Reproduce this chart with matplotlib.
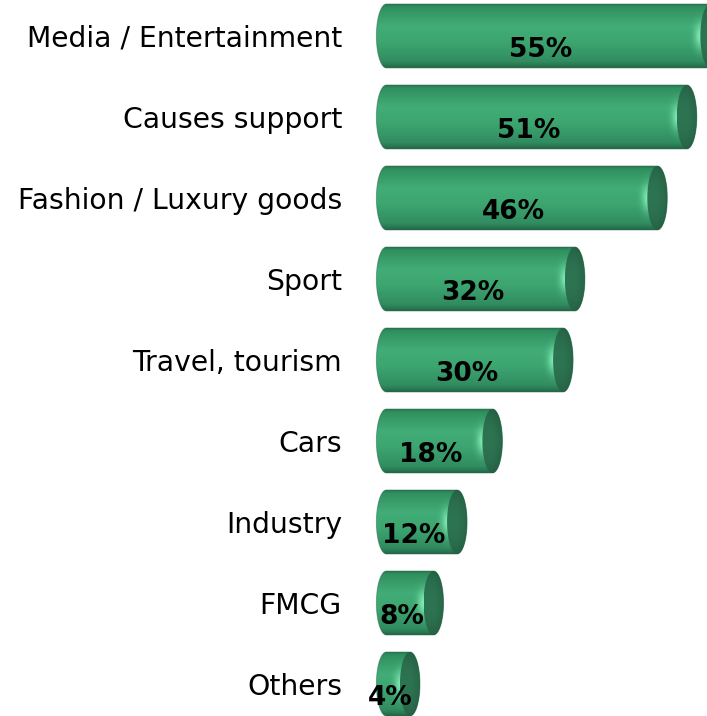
import numpy as np
import matplotlib.pyplot as plt
from matplotlib.colors import LinearSegmentedColormap, to_rgb
from matplotlib.patches import PathPatch, Ellipse
from matplotlib.path import Path

# share of respondents per sector
categories = ["Media / Entertainment", "Causes support", "Fashion / Luxury goods",
              "Sport", "Travel, tourism", "Cars", "Industry", "FMCG", "Others"]
values = [55, 51, 46, 32, 30, 18, 12, 8, 4]
value_labels = ["55%", "51%", "46%", "32%", "30%", "18%", "12%", "8%", "4%"]

fig = plt.figure(figsize=(7.07, 7.16), dpi=100)
ax = fig.add_axes([0, 0, 1, 1])
ax.set_xlim(-65.6, 54.43)
ax.set_ylim(8.395, -0.444)
ax.axis("off")

# vertical shading of the cylinder body (top -> bottom)
body_cmap = LinearSegmentedColormap.from_list("body", [
    (0.00, "#287a52"), (0.05, "#31905f"), (0.35, "#42ad78"),
    (0.60, "#3ca570"), (0.90, "#318c60"), (1.00, "#236846")])

rx = 1.7    # half width of the end ellipse (in %)
ry = 0.395  # half height of a bar (in rows)


def silhouette(yc, v):
    a1 = np.linspace(np.pi / 2, 3 * np.pi / 2, 60)
    a2 = np.linspace(-np.pi / 2, np.pi / 2, 60)
    left = np.column_stack([rx * np.cos(a1), yc + ry * np.sin(a1)])
    right = np.column_stack([v + rx * np.cos(a2), yc + ry * np.sin(a2)])
    pts = np.vstack([left, right, left[:1]])
    return Path(pts, closed=True)


def draw_cylinder(yc, v):
    path = silhouette(yc, v)
    patch = PathPatch(path, facecolor="none", edgecolor="none")
    ax.add_patch(patch)

    grad = body_cmap(np.linspace(0, 1, 200))[:, None, :]
    im = ax.imshow(grad, extent=(-rx, v + rx, yc + ry, yc - ry),
                   aspect="auto", interpolation="bilinear", zorder=1)
    im.set_clip_path(patch)

    # soft highlight on the rounded rim where body meets cap
    m = 120
    x0, x1 = v - 3.5 * rx, v + 0.2 * rx
    gx = np.linspace(x0, x1, m)[None, :]
    gy = np.linspace(-1, 1, m)[:, None]
    glow_a = 0.95 * np.exp(-((gx - (v - 0.95 * rx)) / (0.6 * rx)) ** 2 - (gy / 0.4) ** 2)
    glow = np.zeros((m, m, 4))
    glow[..., :3] = to_rgb("#86eeb8")
    glow[..., 3] = glow_a
    glow_im = ax.imshow(glow, extent=(x0, x1, yc + ry, yc - ry),
                        aspect="auto", interpolation="bilinear", zorder=1.5)
    glow_im.set_clip_path(patch)

    # end cap, darker face
    n = 120
    u = np.linspace(-1, 1, n)[None, :]
    w = np.linspace(-1, 1, n)[:, None]
    base = np.array(to_rgb("#2d7452"))
    shade = (1 - 0.15 * w ** 2) * (1 - 0.12 * np.clip(u, 0, 1))
    cap = base[None, None, :] * shade[..., None]
    cap_im = ax.imshow(np.clip(cap, 0, 1), extent=(v - rx, v + rx, yc + ry, yc - ry),
                       aspect="auto", interpolation="bilinear", zorder=2)
    ell = Ellipse((v, yc), 2 * rx, 2 * ry, facecolor="none", edgecolor="none")
    ax.add_patch(ell)
    cap_im.set_clip_path(ell)

    ax.add_patch(PathPatch(path, facecolor="none", edgecolor="#1f5e3e",
                           lw=0.7, alpha=0.45, zorder=3))


for i, (cat, v, lab) in enumerate(zip(categories, values, value_labels)):
    draw_cylinder(i, v)
    ax.text(v / 2 - 1.4, i + 0.136, lab, ha="center", va="center_baseline",
            fontsize=19, fontweight="bold", color="black", zorder=4)
    ax.text(-7.54, i, cat, ha="right", va="center_baseline",
            fontsize=20.3, color="black")

fig.savefig("out.png", dpi=100)
